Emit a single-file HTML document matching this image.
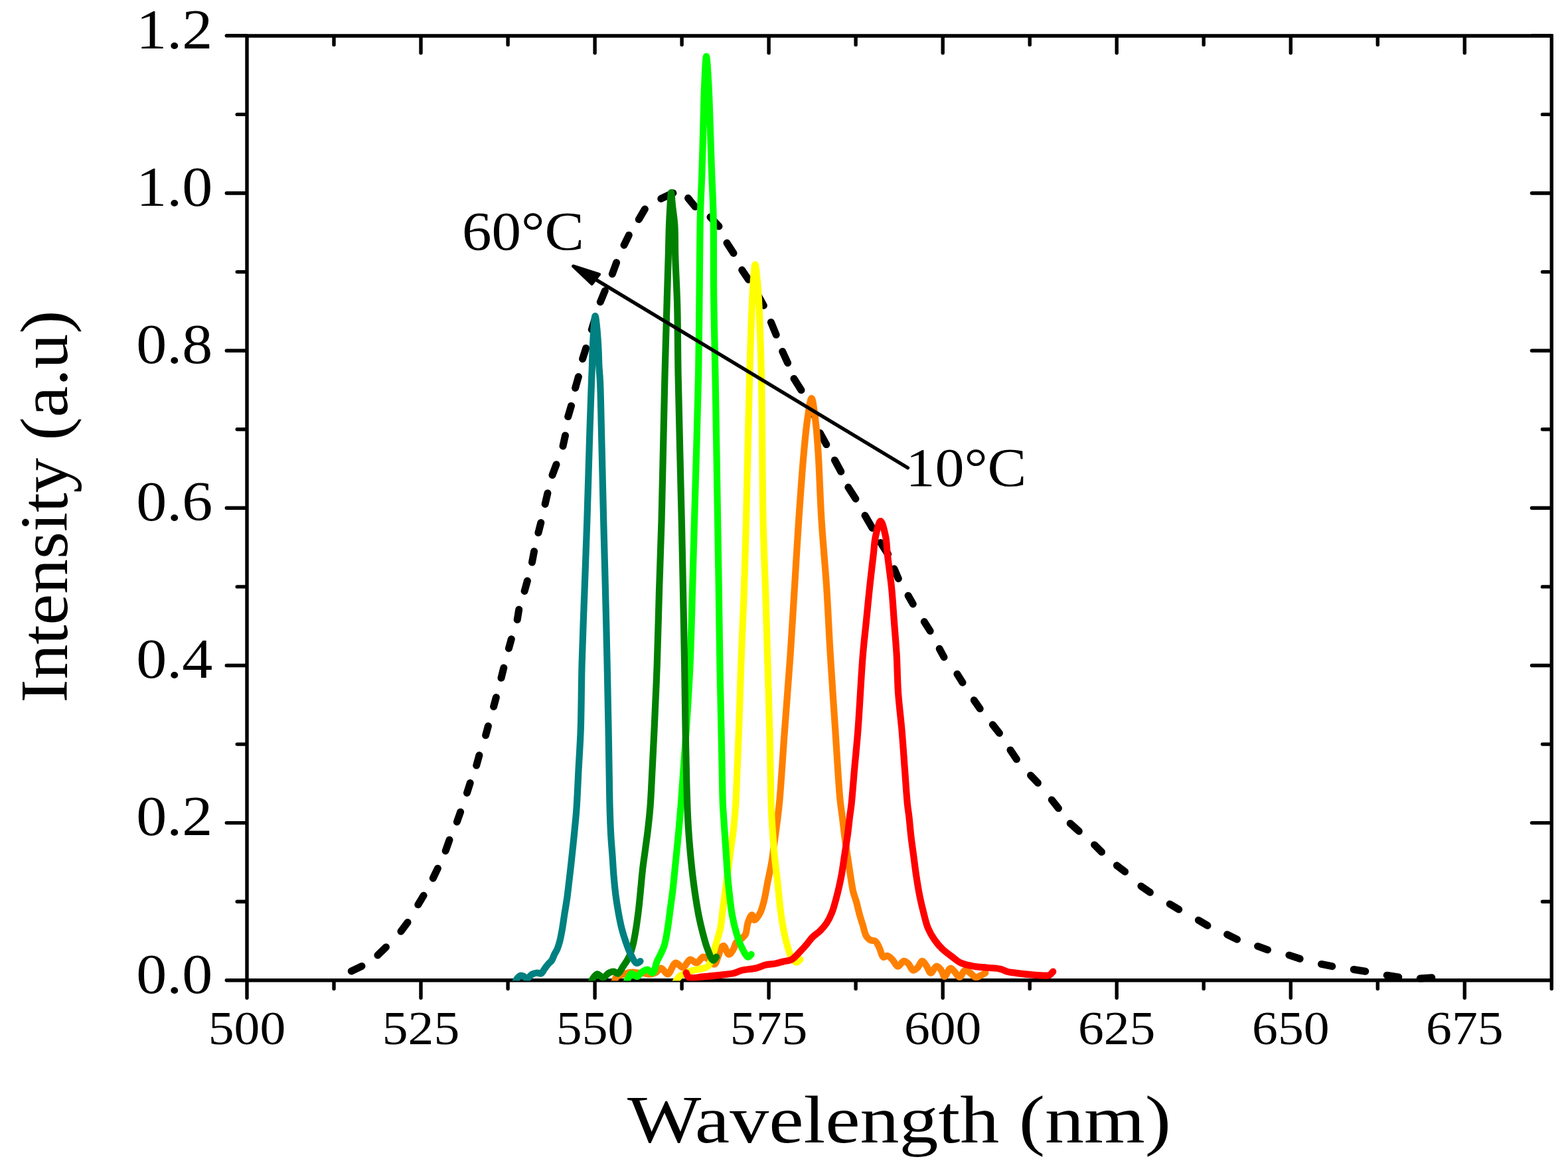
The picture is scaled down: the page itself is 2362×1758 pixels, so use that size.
<!DOCTYPE html>
<html><head><meta charset="utf-8"><title>Intensity vs Wavelength</title>
<style>html,body{margin:0;padding:0;background:#fff;overflow:hidden}svg{display:block}</style>
</head><body>
<svg width="2362" height="1758" viewBox="0 0 2362 1758">
<rect width="2362" height="1758" fill="#fff"/>
<path d="M529.3 1462.9L545.0 1455.5M568.9 1439.0L581.5 1426.8M604.0 1403.0L614.0 1389.5M629.8 1362.8L638.1 1349.0M652.3 1323.0L659.4 1308.2M671.2 1281.8L677.0 1265.3M688.4 1238.0L693.6 1223.2M703.5 1194.4L708.2 1179.6M717.7 1153.1L721.9 1137.8M731.6 1107.8L735.4 1093.8M743.6 1064.5L747.4 1050.5M755.0 1021.3L758.8 1006.0M766.4 976.8L770.3 962.8M779.2 933.6L781.7 918.3M790.1 890.4L794.4 875.1M801.5 847.1L804.6 830.6M810.9 802.6L814.8 787.4M821.1 759.4L824.9 742.9M832.0 715.7L838.0 699.7M848.0 672.0L851.5 656.0M855.7 627.6L860.5 611.4M866.6 584.5L871.4 567.6M877.6 540.7L882.7 524.5M891.3 496.5L896.2 480.5M904.3 455.0L911.3 438.0M922.3 412.8L928.6 395.6M940.0 369.3L947.3 354.3M962.3 330.6L971.4 315.0M995.8 299.3L1013.9 290.8M1036.5 298.5L1047.0 311.4M1070.0 327.0L1083.0 341.0M1095.0 366.0L1105.0 381.4M1117.7 406.7L1127.5 421.3M1142.5 446.0L1150.4 460.3M1161.4 485.4L1169.2 504.3M1178.7 529.5L1186.6 546.8M1196.0 570.4L1207.0 587.7M1220.5 612.5L1227.5 627.0M1235.3 652.3L1244.8 669.6M1257.4 693.2L1266.8 710.5M1277.8 734.1L1288.9 751.4M1303.0 776.6L1314.0 795.5M1326.6 817.5L1337.6 834.8M1347.0 856.8L1353.3 871.7M1368.1 897.2L1375.3 909.9M1392.3 936.6L1401.2 950.6M1415.2 977.3L1422.0 990.0M1441.9 1015.4L1450.0 1028.2M1467.3 1054.8L1476.2 1067.6M1495.3 1091.7L1505.4 1104.4M1522.0 1129.9L1531.4 1143.8M1552.5 1168.0L1563.4 1179.4M1584.3 1204.9L1594.4 1217.6M1612.2 1240.4L1625.3 1252.2M1648.6 1272.7L1659.5 1283.5M1682.4 1303.8L1694.6 1313.2M1718.9 1334.9L1732.4 1344.3M1762.2 1361.9L1775.7 1370.0M1805.4 1386.2L1818.9 1394.3M1848.6 1407.8L1863.5 1415.1M1894.6 1425.4L1909.5 1430.8M1941.9 1438.9L1958.1 1444.3M1990.5 1452.4L2006.8 1455.7M2039.2 1460.5L2056.8 1463.2M2089.2 1469.2L2106.8 1471.9M2139.2 1474.1L2156.8 1472.7" fill="none" stroke="#000" stroke-width="11" stroke-linecap="round"/>
<path d="M372.0 54.0H2337.3V1476.8H372.0ZM372.0 1476.8H341.3M2337.3 1476.8H2307.5M372.0 1358.2H357.2M2337.3 1358.2H2323.5M372.0 1239.6H341.3M2337.3 1239.6H2307.5M372.0 1121.1H357.2M2337.3 1121.1H2323.5M372.0 1002.5H341.3M2337.3 1002.5H2307.5M372.0 883.9H357.2M2337.3 883.9H2323.5M372.0 765.3H341.3M2337.3 765.3H2307.5M372.0 646.7H357.2M2337.3 646.7H2323.5M372.0 528.2H341.3M2337.3 528.2H2307.5M372.0 409.6H357.2M2337.3 409.6H2323.5M372.0 291.0H341.3M2337.3 291.0H2307.5M372.0 172.4H357.2M2337.3 172.4H2323.5M372.0 53.8H341.3M2337.3 53.8H2307.5M372.0 1476.8V1503.2M372.0 54.0V79.8M503.0 1476.8V1489.5M503.0 54.0V67.4M634.0 1476.8V1503.2M634.0 54.0V79.8M765.1 1476.8V1489.5M765.1 54.0V67.4M896.1 1476.8V1503.2M896.1 54.0V79.8M1027.1 1476.8V1489.5M1027.1 54.0V67.4M1158.1 1476.8V1503.2M1158.1 54.0V79.8M1289.1 1476.8V1489.5M1289.1 54.0V67.4M1420.2 1476.8V1503.2M1420.2 54.0V79.8M1551.2 1476.8V1489.5M1551.2 54.0V67.4M1682.2 1476.8V1503.2M1682.2 54.0V79.8M1813.2 1476.8V1489.5M1813.2 54.0V67.4M1944.3 1476.8V1503.2M1944.3 54.0V79.8M2075.3 1476.8V1489.5M2075.3 54.0V67.4M2206.3 1476.8V1503.2M2206.3 54.0V79.8M2337.3 1476.8V1489.5M2337.3 54.0V67.4" fill="none" stroke="#000" stroke-width="5.4" stroke-linecap="round" stroke-linejoin="miter"/>
<clipPath id="pc"><rect x="372.0" y="54.0" width="1965.3" height="1423.6"/></clipPath>
<g clip-path="url(#pc)">
<path d="M925.00 1481.00C926.20 1477.83 926.39 1473.67 928.60 1471.50C930.85 1469.30 935.19 1469.09 938.50 1468.00C941.79 1466.92 945.07 1465.49 948.40 1465.00C951.64 1464.52 955.47 1464.74 958.20 1465.00C960.19 1465.19 961.47 1465.82 963.30 1466.00C965.37 1466.20 967.67 1465.77 970.00 1466.00C972.58 1466.25 975.28 1467.69 978.10 1467.60C981.25 1467.50 985.02 1466.51 988.00 1465.00C990.99 1463.48 993.22 1458.43 996.00 1458.50C999.16 1458.58 1002.65 1467.77 1005.90 1467.40C1009.95 1466.94 1013.49 1451.34 1017.80 1450.50C1021.22 1449.83 1025.25 1457.95 1028.70 1457.50C1032.56 1457.00 1035.77 1446.32 1039.60 1445.60C1042.77 1445.01 1046.34 1450.93 1049.50 1450.50C1052.97 1450.02 1056.13 1442.13 1059.40 1441.60C1062.02 1441.18 1064.62 1443.41 1067.20 1445.00C1070.23 1446.87 1073.78 1453.04 1076.20 1452.50C1078.82 1451.91 1080.19 1444.25 1082.00 1440.00C1083.83 1435.69 1085.21 1429.15 1087.10 1426.80C1088.05 1425.61 1089.01 1424.56 1090.10 1424.80C1092.34 1425.29 1095.29 1437.47 1098.00 1437.70C1100.28 1437.89 1103.18 1432.68 1105.00 1429.70C1106.82 1426.72 1106.86 1422.46 1108.90 1419.80C1110.87 1417.23 1114.51 1415.97 1116.90 1413.90C1119.10 1411.99 1121.27 1410.73 1122.80 1407.90C1125.05 1403.73 1124.84 1395.22 1126.70 1390.00C1128.27 1385.60 1130.81 1378.41 1132.60 1378.40C1134.05 1378.39 1134.88 1385.82 1136.60 1386.00C1138.67 1386.21 1142.32 1380.33 1144.50 1376.40C1147.18 1371.57 1148.70 1365.36 1150.50 1358.60C1152.79 1350.00 1154.42 1338.72 1156.40 1328.80C1158.38 1318.89 1160.71 1309.03 1162.40 1299.10C1164.08 1289.23 1165.15 1279.31 1166.50 1269.40C1167.85 1259.48 1169.25 1249.52 1170.50 1239.60C1171.75 1229.72 1172.76 1223.01 1174.00 1210.00C1176.39 1184.97 1179.27 1136.93 1182.00 1100.00C1184.77 1062.54 1187.97 1023.53 1190.50 986.80C1192.90 952.00 1194.78 919.00 1196.90 885.10C1199.02 851.20 1200.87 817.29 1203.20 783.40C1205.53 749.49 1208.32 709.76 1210.90 681.70C1212.73 661.84 1214.14 645.70 1216.40 630.90C1218.17 619.28 1220.55 599.98 1222.50 600.00C1224.45 600.02 1226.55 619.29 1228.10 630.90C1230.08 645.70 1231.15 661.84 1232.50 681.70C1234.40 709.76 1235.38 749.51 1237.50 783.40C1239.62 817.31 1243.00 851.51 1245.20 885.10C1247.35 918.03 1248.54 948.92 1250.60 983.00C1252.85 1020.27 1255.75 1062.06 1258.30 1100.00C1260.72 1135.95 1263.24 1182.16 1265.50 1205.00C1266.60 1216.11 1267.62 1221.08 1268.70 1229.70C1269.88 1239.17 1270.98 1249.58 1272.30 1259.50C1273.62 1269.42 1275.13 1279.30 1276.60 1289.20C1278.07 1299.10 1279.61 1309.55 1281.10 1318.90C1282.44 1327.28 1283.42 1335.61 1285.10 1342.70C1286.49 1348.58 1288.43 1352.99 1290.00 1358.60C1291.74 1364.82 1293.26 1372.19 1295.00 1378.40C1296.57 1383.99 1298.25 1388.93 1299.90 1394.20C1301.55 1399.49 1302.58 1406.28 1304.90 1410.10C1306.54 1412.81 1308.47 1414.68 1310.80 1416.00C1313.11 1417.31 1316.59 1416.35 1318.80 1418.00C1321.42 1419.95 1322.84 1424.33 1324.70 1428.00C1326.81 1432.17 1327.96 1440.61 1330.60 1441.80C1332.32 1442.57 1334.55 1439.46 1336.60 1439.80C1339.16 1440.22 1342.01 1443.37 1344.50 1445.80C1347.31 1448.55 1349.54 1455.45 1352.40 1455.70C1355.18 1455.95 1358.50 1448.10 1361.40 1447.80C1363.76 1447.56 1366.20 1449.78 1368.30 1451.70C1370.90 1454.06 1372.59 1461.00 1375.20 1461.60C1377.33 1462.09 1380.07 1459.62 1382.20 1457.70C1384.81 1455.34 1386.71 1447.93 1389.10 1447.80C1391.32 1447.68 1393.89 1452.82 1396.00 1455.70C1398.21 1458.73 1399.63 1465.38 1402.00 1465.60C1404.54 1465.84 1408.02 1455.90 1410.90 1455.70C1413.29 1455.53 1415.96 1459.18 1417.90 1461.60C1419.99 1464.21 1420.78 1470.85 1422.80 1471.00C1425.22 1471.18 1428.83 1459.07 1431.70 1458.70C1433.75 1458.43 1435.63 1461.67 1437.70 1463.60C1440.23 1465.96 1443.04 1472.13 1445.60 1472.00C1448.32 1471.86 1450.54 1462.29 1453.50 1461.60C1455.95 1461.03 1458.93 1463.94 1461.50 1465.60C1464.24 1467.37 1466.61 1471.46 1469.40 1472.00C1471.91 1472.49 1474.80 1470.68 1477.30 1469.60C1479.77 1468.54 1481.97 1466.93 1484.30 1465.60" fill="none" stroke="#FF8000" stroke-width="10.2" stroke-linecap="round" stroke-linejoin="round"/>
<path d="M1016.00 1482.00C1017.33 1479.67 1018.36 1477.14 1020.00 1475.00C1021.68 1472.80 1023.62 1470.63 1026.00 1469.00C1028.56 1467.24 1031.86 1466.23 1035.00 1465.00C1038.34 1463.69 1041.81 1462.38 1045.50 1461.40C1049.45 1460.35 1054.33 1460.03 1058.00 1459.00C1061.00 1458.16 1063.83 1457.87 1066.00 1456.00C1068.50 1453.83 1070.01 1449.51 1071.50 1446.00C1073.02 1442.42 1073.81 1438.73 1075.00 1434.70C1076.37 1430.08 1077.68 1425.18 1079.20 1419.80C1081.00 1413.44 1083.53 1406.66 1085.10 1399.00C1086.97 1389.87 1087.67 1378.60 1089.00 1368.50C1090.31 1358.53 1091.67 1348.71 1093.00 1338.80C1094.33 1328.88 1095.68 1318.93 1097.00 1309.00C1098.32 1299.09 1099.58 1289.20 1100.90 1279.30C1102.22 1269.40 1103.73 1260.10 1104.90 1249.60C1106.21 1237.82 1107.31 1225.56 1108.20 1212.00C1109.25 1196.08 1109.73 1177.95 1110.50 1160.00C1111.33 1140.72 1112.16 1122.54 1113.00 1100.00C1114.09 1070.90 1115.05 1033.33 1116.30 1000.00C1117.55 966.66 1119.25 934.50 1120.50 900.00C1121.84 863.01 1122.80 829.50 1124.00 785.00C1125.66 723.46 1127.38 626.69 1129.20 565.00C1130.52 520.19 1131.94 476.16 1133.30 449.00C1134.04 434.29 1134.61 424.30 1135.50 415.00C1136.12 408.51 1136.85 398.51 1137.60 398.50C1138.35 398.49 1139.26 408.50 1140.00 415.00C1141.06 424.29 1141.93 434.28 1142.80 449.00C1144.40 476.15 1145.83 520.19 1146.90 565.00C1148.37 626.69 1148.18 723.46 1149.60 785.00C1150.63 829.50 1152.41 865.13 1153.50 900.00C1154.41 929.08 1154.95 950.64 1155.80 980.00C1156.84 1015.96 1158.36 1061.82 1159.30 1100.00C1160.16 1134.85 1160.63 1176.49 1161.30 1200.00C1161.67 1212.82 1161.90 1219.80 1162.40 1229.70C1162.90 1239.63 1163.49 1248.87 1164.30 1259.50C1165.23 1271.77 1166.54 1286.86 1167.80 1299.10C1168.89 1309.72 1170.22 1318.89 1171.30 1328.80C1172.38 1338.72 1173.15 1348.68 1174.30 1358.60C1175.45 1368.52 1176.56 1378.43 1178.20 1388.30C1179.85 1398.23 1181.73 1408.72 1184.20 1418.00C1186.45 1426.44 1188.72 1436.25 1192.10 1441.80C1194.34 1445.48 1197.34 1449.50 1199.80 1449.70C1201.77 1449.86 1203.60 1446.90 1205.50 1445.50" fill="none" stroke="#FFFF00" stroke-width="10.2" stroke-linecap="round" stroke-linejoin="round"/>
<path d="M943.00 1481.00C944.00 1478.67 944.71 1476.31 946.00 1474.00C947.42 1471.47 949.40 1466.87 951.30 1466.50C952.78 1466.21 954.46 1468.73 956.00 1469.50C957.35 1470.18 958.62 1471.29 960.00 1471.00C961.95 1470.59 963.71 1466.70 966.10 1465.00C968.69 1463.15 972.24 1460.34 975.10 1460.50C977.86 1460.65 980.79 1466.32 983.00 1465.60C986.15 1464.58 987.66 1452.82 989.90 1447.80C991.60 1443.97 993.22 1441.51 994.90 1437.90C996.85 1433.69 999.14 1429.45 1000.80 1424.00C1002.99 1416.81 1004.34 1407.12 1005.80 1398.20C1007.36 1388.67 1008.48 1378.40 1009.80 1368.50C1011.12 1358.60 1012.55 1348.72 1013.70 1338.80C1014.85 1328.88 1015.70 1318.92 1016.70 1309.00C1017.70 1299.09 1018.72 1289.20 1019.70 1279.30C1020.68 1269.40 1021.64 1260.09 1022.60 1249.60C1023.68 1237.81 1024.74 1225.55 1025.80 1212.00C1027.04 1196.07 1028.22 1177.95 1029.50 1160.00C1030.88 1140.72 1032.34 1122.55 1033.80 1100.00C1035.69 1070.91 1038.08 1034.14 1039.60 1000.00C1041.19 964.22 1041.92 926.24 1043.00 890.00C1044.05 854.59 1044.83 826.40 1046.00 785.00C1047.69 725.08 1050.87 626.70 1052.10 565.00C1052.99 520.20 1053.03 488.58 1053.50 449.00C1053.99 407.50 1054.12 356.33 1055.00 321.50C1055.61 297.30 1056.68 281.52 1057.40 260.00C1058.20 236.24 1058.83 208.34 1059.50 185.00C1060.09 164.56 1060.35 145.21 1061.20 127.50C1061.93 112.26 1062.97 85.01 1064.00 85.00C1065.03 84.99 1066.50 112.25 1067.40 127.50C1068.45 145.21 1068.87 164.56 1069.60 185.00C1070.44 208.34 1071.24 236.24 1072.10 260.00C1072.88 281.52 1073.96 297.30 1074.50 321.50C1075.28 356.33 1074.67 407.51 1075.20 449.00C1075.70 488.58 1076.69 520.20 1077.50 565.00C1078.62 626.70 1080.12 725.07 1081.10 785.00C1081.77 826.40 1082.26 854.59 1082.80 890.00C1083.36 926.24 1083.76 964.21 1084.40 1000.00C1085.01 1034.13 1085.90 1070.90 1086.50 1100.00C1086.96 1122.54 1087.30 1140.91 1087.70 1160.00C1088.07 1177.43 1088.27 1197.15 1088.80 1210.00C1089.13 1218.07 1089.54 1222.46 1090.00 1229.70C1090.57 1238.61 1091.33 1249.58 1092.00 1259.50C1092.67 1269.41 1093.33 1279.30 1094.00 1289.20C1094.67 1299.10 1095.17 1309.00 1096.00 1318.90C1096.83 1328.83 1097.85 1338.78 1099.00 1348.70C1100.15 1358.62 1101.17 1368.89 1102.90 1378.40C1104.52 1387.34 1106.48 1396.03 1108.90 1404.20C1111.16 1411.84 1113.59 1419.50 1116.80 1426.00C1119.67 1431.81 1123.80 1441.10 1126.80 1441.60C1128.55 1441.89 1130.07 1439.00 1131.70 1437.70" fill="none" stroke="#00FF00" stroke-width="10.2" stroke-linecap="round" stroke-linejoin="round"/>
<path d="M890.00 1481.00C891.00 1478.67 891.52 1476.17 893.00 1474.00C894.66 1471.57 897.73 1467.52 899.80 1467.30C901.30 1467.14 902.55 1469.12 904.00 1470.00C905.51 1470.92 906.98 1472.85 908.70 1472.70C911.08 1472.49 913.88 1467.55 916.70 1466.00C919.21 1464.62 922.13 1463.34 924.60 1463.50C926.88 1463.65 928.99 1467.03 931.00 1466.50C933.72 1465.79 935.96 1459.79 938.50 1456.00C941.38 1451.71 944.88 1447.12 947.30 1442.00C949.89 1436.52 951.58 1430.60 953.30 1424.00C955.32 1416.23 956.75 1407.12 958.20 1398.20C959.75 1388.67 961.03 1378.41 962.20 1368.50C963.37 1358.61 964.22 1348.71 965.20 1338.80C966.18 1328.88 966.95 1318.91 968.10 1309.00C969.25 1299.08 970.78 1289.20 972.10 1279.30C973.42 1269.40 974.80 1259.89 976.00 1249.60C977.29 1238.52 978.50 1227.88 979.50 1215.00C980.76 1198.79 981.52 1178.73 982.50 1160.00C983.52 1140.44 984.45 1122.54 985.50 1100.00C986.85 1070.90 988.57 1034.13 989.80 1000.00C991.09 964.21 991.87 926.24 993.00 890.00C994.11 854.59 995.34 826.40 996.50 785.00C998.18 725.08 999.96 624.92 1001.50 565.00C1002.56 523.60 1003.55 492.06 1004.50 460.00C1005.30 432.90 1006.18 406.96 1006.80 385.00C1007.29 367.80 1007.47 352.57 1008.00 339.00C1008.42 328.22 1008.94 318.77 1009.50 310.00C1009.96 302.71 1010.42 290.01 1011.00 290.00C1011.58 289.99 1012.22 302.72 1013.00 310.00C1013.94 318.77 1015.58 328.20 1016.30 339.00C1017.20 352.55 1016.69 367.80 1017.20 385.00C1017.85 406.96 1019.48 432.90 1020.20 460.00C1021.05 492.06 1020.83 523.60 1021.60 565.00C1022.71 624.93 1025.46 725.07 1026.80 785.00C1027.72 826.40 1028.29 854.59 1029.00 890.00C1029.73 926.24 1030.49 964.21 1031.10 1000.00C1031.68 1034.13 1032.03 1068.53 1032.60 1100.00C1033.11 1128.15 1033.65 1156.49 1034.30 1180.00C1034.81 1198.53 1035.32 1215.24 1036.00 1229.70C1036.53 1240.90 1037.08 1249.58 1037.80 1259.50C1038.52 1269.41 1039.37 1279.30 1040.30 1289.20C1041.23 1299.10 1042.22 1309.00 1043.40 1318.90C1044.58 1328.83 1045.90 1338.79 1047.40 1348.70C1048.90 1358.62 1050.51 1368.87 1052.40 1378.40C1054.17 1387.33 1056.12 1395.80 1058.30 1404.20C1060.40 1412.32 1062.38 1420.66 1065.20 1428.00C1067.77 1434.70 1071.30 1446.11 1074.20 1446.60C1075.90 1446.89 1077.53 1443.27 1079.20 1441.60" fill="none" stroke="#008000" stroke-width="10.2" stroke-linecap="round" stroke-linejoin="round"/>
<path d="M776.00 1480.00C777.00 1478.00 777.57 1475.72 779.00 1474.00C780.52 1472.18 783.02 1469.76 785.00 1469.50C786.68 1469.28 788.40 1470.74 790.00 1471.50C791.56 1472.24 792.93 1474.19 794.50 1474.00C796.55 1473.75 798.54 1469.42 801.00 1468.00C803.39 1466.62 806.51 1465.67 809.00 1465.50C811.13 1465.35 813.26 1467.18 815.00 1466.50C817.02 1465.71 818.26 1462.28 820.00 1460.00C821.92 1457.48 824.01 1454.29 826.00 1452.00C827.67 1450.07 829.58 1449.07 831.00 1447.00C832.68 1444.56 833.59 1440.89 835.00 1438.00C836.36 1435.23 838.02 1433.00 839.30 1430.00C840.81 1426.46 842.01 1422.55 843.20 1418.00C844.71 1412.22 846.03 1404.68 847.20 1398.00C848.36 1391.35 849.11 1385.04 850.20 1378.00C851.42 1370.13 853.04 1361.26 854.20 1353.00C855.33 1344.93 856.14 1337.16 857.10 1329.00C858.10 1320.51 859.12 1311.83 860.10 1303.00C861.12 1293.84 862.12 1284.42 863.10 1275.00C864.09 1265.42 865.09 1255.58 866.00 1246.00C866.89 1236.59 867.72 1229.02 868.50 1218.00C869.62 1202.16 870.48 1179.50 871.50 1160.00C872.54 1140.17 873.88 1122.55 874.70 1100.00C875.75 1070.91 875.67 1034.12 876.60 1000.00C877.57 964.20 879.20 926.24 880.50 890.00C881.77 854.59 883.06 822.20 884.30 785.00C885.70 742.83 887.15 688.43 888.40 650.00C889.33 621.35 890.32 593.30 891.00 575.00C891.39 564.43 891.73 557.97 892.00 550.00C892.25 542.70 892.27 536.84 892.60 529.00C893.02 519.02 893.69 504.69 894.50 495.00C895.10 487.74 895.80 476.01 896.60 476.00C897.40 475.99 898.54 487.74 899.30 495.00C900.31 504.68 901.10 519.02 901.60 529.00C902.00 536.84 901.93 542.70 902.30 550.00C902.70 557.97 903.50 564.43 904.00 575.00C904.87 593.29 905.28 621.35 906.00 650.00C906.97 688.43 908.14 742.82 909.20 785.00C910.14 822.20 911.11 854.59 912.00 890.00C912.91 926.24 913.82 964.21 914.60 1000.00C915.34 1034.13 916.07 1070.90 916.60 1100.00C917.01 1122.54 917.25 1140.00 917.60 1160.00C917.95 1180.00 918.17 1202.09 918.70 1220.00C919.13 1234.54 919.60 1247.28 920.30 1259.50C920.91 1270.11 921.80 1279.30 922.50 1289.20C923.20 1299.10 923.67 1309.00 924.50 1318.90C925.33 1328.83 926.28 1339.15 927.50 1348.70C928.64 1357.60 929.99 1366.02 931.50 1374.40C932.96 1382.50 934.49 1390.67 936.40 1398.20C938.16 1405.15 940.20 1411.61 942.40 1418.00C944.52 1424.16 946.56 1430.33 949.30 1435.90C951.90 1441.19 955.54 1449.47 958.30 1450.70C959.59 1451.27 960.94 1450.49 962.00 1450.00C962.98 1449.55 963.67 1448.67 964.50 1448.00" fill="none" stroke="#008080" stroke-width="10.2" stroke-linecap="round" stroke-linejoin="round"/>
<path d="M1033.60 1465.40C1034.93 1467.70 1035.11 1470.93 1037.60 1472.30C1041.71 1474.56 1051.58 1471.96 1059.40 1471.40C1068.55 1470.75 1080.90 1469.36 1089.10 1468.40C1094.92 1467.72 1099.10 1467.55 1104.00 1466.40C1109.00 1465.23 1113.44 1462.69 1118.80 1461.40C1124.88 1459.94 1132.62 1459.96 1138.70 1458.50C1144.06 1457.21 1148.50 1454.67 1153.50 1453.50C1158.40 1452.35 1163.77 1452.41 1168.40 1451.50C1172.53 1450.69 1176.10 1449.45 1180.00 1448.50C1183.93 1447.55 1188.04 1447.83 1191.90 1445.80C1196.71 1443.26 1201.64 1437.11 1205.80 1432.90C1209.47 1429.19 1212.64 1425.59 1215.70 1422.00C1218.54 1418.67 1220.51 1415.25 1223.60 1412.10C1227.01 1408.62 1231.87 1405.83 1235.50 1402.20C1239.13 1398.57 1242.51 1394.74 1245.40 1390.30C1248.50 1385.54 1251.04 1380.09 1253.30 1374.40C1255.74 1368.26 1257.48 1361.22 1259.30 1354.60C1261.11 1348.02 1262.71 1341.42 1264.20 1334.80C1265.68 1328.22 1267.03 1321.62 1268.20 1315.00C1269.37 1308.39 1270.20 1301.72 1271.20 1295.10C1272.20 1288.49 1273.22 1281.90 1274.20 1275.30C1275.18 1268.70 1276.17 1262.54 1277.10 1255.50C1278.15 1247.48 1279.12 1237.49 1280.10 1229.70C1280.91 1223.24 1281.67 1219.46 1282.50 1212.00C1283.92 1199.24 1285.42 1177.95 1287.00 1160.00C1288.70 1140.71 1290.60 1123.16 1292.40 1100.00C1294.87 1068.22 1297.29 1017.06 1299.80 986.80C1301.48 966.50 1303.20 952.94 1304.90 936.00C1306.60 919.04 1308.18 902.05 1310.00 885.10C1311.82 868.15 1314.17 848.34 1315.80 834.30C1316.95 824.35 1316.99 817.07 1318.80 808.80C1320.58 800.64 1323.93 785.00 1326.50 785.00C1329.07 785.00 1332.50 800.64 1334.20 808.80C1335.92 817.06 1335.60 824.36 1336.70 834.30C1338.26 848.35 1341.30 868.14 1343.00 885.10C1344.70 902.04 1345.62 919.04 1346.90 936.00C1348.18 952.94 1349.70 969.43 1350.70 986.80C1351.76 1005.05 1351.71 1024.22 1353.00 1043.00C1354.30 1061.95 1356.85 1080.75 1358.50 1100.00C1360.19 1119.73 1361.54 1140.72 1363.00 1160.00C1364.36 1177.95 1365.68 1199.24 1367.00 1212.00C1367.77 1219.46 1368.53 1223.03 1369.30 1229.70C1370.30 1238.34 1371.15 1249.58 1372.30 1259.50C1373.45 1269.42 1374.88 1279.30 1376.20 1289.20C1377.52 1299.10 1378.70 1309.00 1380.20 1318.90C1381.70 1328.84 1383.31 1339.16 1385.20 1348.70C1386.97 1357.61 1388.93 1366.03 1391.10 1374.40C1393.21 1382.52 1394.98 1391.00 1398.00 1398.20C1400.74 1404.74 1404.24 1410.60 1408.00 1416.00C1411.55 1421.11 1415.48 1425.74 1419.80 1429.90C1424.06 1433.99 1429.03 1437.31 1433.70 1440.80C1438.29 1444.23 1442.30 1448.25 1447.60 1450.70C1453.40 1453.38 1460.76 1454.53 1467.40 1455.70C1473.96 1456.85 1480.60 1457.03 1487.20 1457.70C1493.80 1458.37 1501.59 1458.40 1507.00 1459.70C1510.97 1460.66 1513.03 1462.54 1517.00 1463.60C1522.42 1465.05 1530.19 1465.77 1536.80 1466.60C1543.39 1467.43 1549.99 1468.10 1556.60 1468.60C1563.19 1469.10 1572.11 1469.77 1576.40 1469.60C1578.47 1469.52 1579.53 1469.73 1581.00 1469.00C1582.87 1468.07 1584.53 1465.40 1586.30 1463.60" fill="none" stroke="#FF0000" stroke-width="10.2" stroke-linecap="round" stroke-linejoin="round"/>
</g>
<path d="M1367.5 704.7L885 413.6" stroke="#000" stroke-width="5.4" stroke-linecap="round" fill="none"/>
<path d="M863.5 401L902.5 413.3L891.5 427.5Z" fill="#000" stroke="#000" stroke-width="5" stroke-linejoin="round"/>
<g fill="#000" style="font-family:'Liberation Serif','DejaVu Serif',serif"><text x="320.3" y="1495.6" text-anchor="end" style="font-size:84.5px" textLength="115" lengthAdjust="spacingAndGlyphs">0.0</text><text x="320.3" y="1258.4" text-anchor="end" style="font-size:84.5px" textLength="115" lengthAdjust="spacingAndGlyphs">0.2</text><text x="320.3" y="1021.3" text-anchor="end" style="font-size:84.5px" textLength="115" lengthAdjust="spacingAndGlyphs">0.4</text><text x="320.3" y="784.1" text-anchor="end" style="font-size:84.5px" textLength="115" lengthAdjust="spacingAndGlyphs">0.6</text><text x="320.3" y="547.0" text-anchor="end" style="font-size:84.5px" textLength="115" lengthAdjust="spacingAndGlyphs">0.8</text><text x="320.3" y="309.8" text-anchor="end" style="font-size:84.5px" textLength="115" lengthAdjust="spacingAndGlyphs">1.0</text><text x="320.3" y="72.6" text-anchor="end" style="font-size:84.5px" textLength="115" lengthAdjust="spacingAndGlyphs">1.2</text><text x="372.0" y="1573" text-anchor="middle" style="font-size:71.0px" textLength="116.5" lengthAdjust="spacingAndGlyphs">500</text><text x="634.0" y="1573" text-anchor="middle" style="font-size:71.0px" textLength="116.5" lengthAdjust="spacingAndGlyphs">525</text><text x="896.1" y="1573" text-anchor="middle" style="font-size:71.0px" textLength="116.5" lengthAdjust="spacingAndGlyphs">550</text><text x="1158.1" y="1573" text-anchor="middle" style="font-size:71.0px" textLength="116.5" lengthAdjust="spacingAndGlyphs">575</text><text x="1420.2" y="1573" text-anchor="middle" style="font-size:71.0px" textLength="116.5" lengthAdjust="spacingAndGlyphs">600</text><text x="1682.2" y="1573" text-anchor="middle" style="font-size:71.0px" textLength="116.5" lengthAdjust="spacingAndGlyphs">625</text><text x="1944.3" y="1573" text-anchor="middle" style="font-size:71.0px" textLength="116.5" lengthAdjust="spacingAndGlyphs">650</text><text x="2206.3" y="1573" text-anchor="middle" style="font-size:71.0px" textLength="116.5" lengthAdjust="spacingAndGlyphs">675</text><text x="945" y="1720.8" style="font-size:102px" textLength="819" lengthAdjust="spacingAndGlyphs">Wavelength (nm)</text><text transform="translate(100.8,1058.4) rotate(-90)" x="0" y="0" style="font-size:102px" textLength="590.7" lengthAdjust="spacingAndGlyphs">Intensity (a.u)</text><text x="696" y="376" style="font-size:82px" textLength="184" lengthAdjust="spacingAndGlyphs">60°C</text><text x="1364.4" y="731.5" style="font-size:82px" textLength="181.9" lengthAdjust="spacingAndGlyphs">10°C</text></g>
</svg>
</body></html>
